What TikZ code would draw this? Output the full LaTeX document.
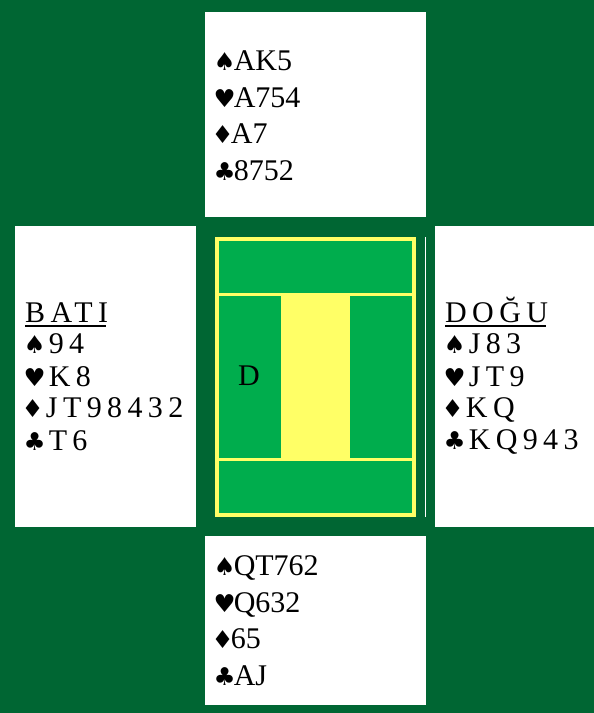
\documentclass[tikz,border=0pt]{standalone}
\usepackage{fontspec}
\setmainfont{Liberation Serif}
\newfontfamily\spacedfont[LetterSpace=18]{Liberation Serif}
\newfontfamily\suitfont[Scale=0.82]{DejaVu Sans}
\newcommand\suitS{\kern-1.5pt{\suitfont ♠}\kern-2pt}
\newcommand\suitH{\kern-1.5pt{\suitfont ♥}\kern-2pt}
\newcommand\suitD{\kern-3.5pt{\suitfont ♦}\kern-2.8pt}
\newcommand\suitC{\kern-1.5pt{\suitfont ♣}\kern-2pt}
\usetikzlibrary{calc}
\definecolor{darkfelt}{RGB}{0,102,51}
\definecolor{felt}{RGB}{0,173,77}
\definecolor{tabyellow}{RGB}{255,255,102}
\tikzset{
  handbox/.style={fill=white, draw=none},
  panel/.style={fill=felt, draw=none},
  hand/.style={anchor=base west, inner sep=0pt, font=\fontsize{30}{30}\selectfont},
  shand/.style={anchor=base west, inner sep=0pt, font=\fontsize{30}{30}\selectfont\spacedfont},
  uline/.style={line width=1.6pt, black},
}
\begin{document}
\begin{tikzpicture}[x=1pt,y=-1pt]
\useasboundingbox (0,0) rectangle (594,713);
\fill[darkfelt] (0,0) rectangle (594,713);
% hand boxes
\fill[handbox] (205,12) rectangle (426,217);
\fill[handbox] (15,226) rectangle (196,527);
\fill[handbox] (435,226) rectangle (594,527);
\fill[handbox] (205,536) rectangle (426,705);
% table
\fill[tabyellow] (215,237) rectangle (416,517);
\fill[panel] (219,241) rectangle (412,293);
\fill[panel] (219,461) rectangle (412,513);
\fill[panel] (219,296) rectangle (281,458);
\fill[panel] (350,296) rectangle (412,458);
\draw[white, line width=0.8pt] (425,237) -- (425,517);
\node[inner sep=0pt, font=\fontsize{30}{30}\selectfont] (dealer) at (249,376) {D};
% North
\node[hand] (n1) at (215,70) {\suitS AK5};
\node[hand] (n2) at (215,107) {\suitH A754};
\node[hand] (n3) at (215,143) {\suitD A7};
\node[hand] (n4) at (215,180) {\suitC 8752};
% South
\node[hand] (s1) at (215,575) {\suitS QT762};
\node[hand] (s2) at (215,612) {\suitH Q632};
\node[hand] (s3) at (215,648) {\suitD 65};
\node[hand] (s4) at (215,685) {\suitC AJ};
% West
\node[shand] (w0) at (25,322) {BATI};
\node[shand] (w1) at (25,353) {\suitS\,94};
\node[shand] (w2) at (25,386) {\suitH\,K8};
\node[shand] (w3) at (25,417) {\suitD\,JT98432};
\node[shand] (w4) at (25,450) {\suitC\,T6};
\draw[uline] ($(w0.base west)+(0,4)$) -- ($(w0.base east)+(-2,4)$);
% East
\node[shand] (e0) at (445,322) {DOĞU};
\node[shand] (e1) at (445,353) {\suitS\,J83};
\node[shand] (e2) at (445,386) {\suitH\,JT9};
\node[shand] (e3) at (445,417) {\suitD\,KQ};
\node[shand] (e4) at (445,449) {\suitC\,KQ943};
\draw[uline] ($(e0.base west)+(0,4)$) -- ($(e0.base east)+(-2,4)$);
\end{tikzpicture}
\end{document}
